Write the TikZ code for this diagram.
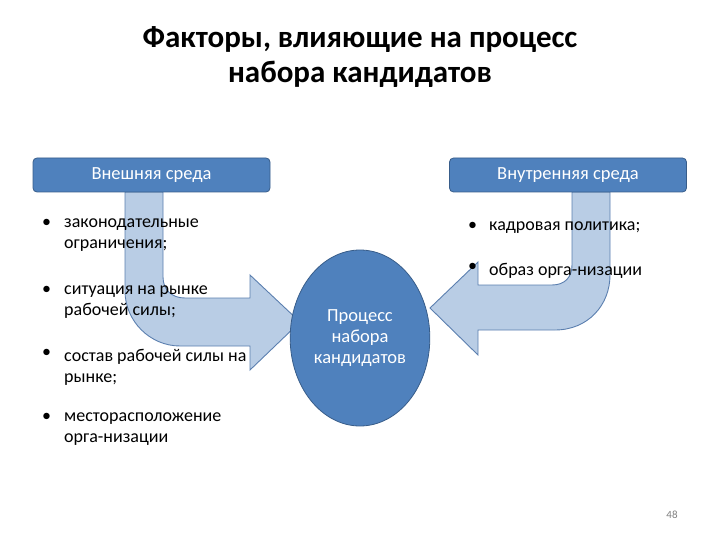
\documentclass[tikz,border=0pt]{standalone}
\usepackage{fontspec}
\setmainfont{Carlito}
\usetikzlibrary{shapes.geometric}
\definecolor{boxblue}{HTML}{4F81BD}
\definecolor{boxedge}{HTML}{385D8A}
\definecolor{arrfill}{HTML}{B9CDE5}
\definecolor{arredge}{HTML}{5B7FAF}
\tikzset{
  hdr/.style={draw=boxedge, fill=boxblue, rounded corners=4pt, minimum width=237pt, minimum height=34pt, text=white, font=\fontsize{18.5}{20}\selectfont, line width=0.8pt},
  body/.style={anchor=north west, align=left, font=\fontsize{18}{21}\selectfont, inner sep=0pt},
  bul/.style={anchor=north west, font=\fontsize{18}{21}\selectfont, inner sep=0pt},
  arr/.style={fill=arrfill, draw=arredge, line width=0.9pt}
}
\begin{document}
\begin{tikzpicture}[x=1pt,y=-1pt]
\useasboundingbox (0,0) rectangle (720,540);
\node[font=\bfseries\fontsize{31}{35}\selectfont, align=center] (title) at (360,57) {Факторы, влияющие на процесс\\набора кандидатов};
% arrows
\draw[arr] (125,192)--(125,291) .. controls (125,321) and (150,346) .. (180,346) -- (250,346) -- (250,370) -- (300,322) -- (250,275) -- (250,298) -- (185,298) .. controls (172,298) and (163,290) .. (163,277) -- (163,192) -- cycle;
\draw[arr] (610,192)--(610,275) .. controls (610,305) and (588,330) .. (555,330) -- (478,330) -- (478,355) -- (430,308) -- (478,262) -- (478,285) -- (552,285) .. controls (565,285) and (572,277) .. (572,265) -- (572,192) -- cycle;
\node[ellipse, draw=boxedge, fill=boxblue, minimum width=124pt, minimum height=176pt, line width=0.8pt, text=white, align=center, font=\fontsize{18.5}{21}\selectfont] (proc) at (360,338) {Процесс\\набора\\кандидатов};
\node[hdr] (ext) at (151.5,175) {Внешняя среда};
\node[hdr] (int) at (568,175) {Внутренняя среда};
% left bullets
\node[bul] (b1) at (42,219) {•}; \node[body] (t1) at (64,219) {законодательные\\ограничения;};
\node[bul] (b2) at (42,286) {•}; \node[body] (t2) at (64,286) {ситуация на рынке\\рабочей силы;};
\node[bul] (b3) at (42,349) {•}; \node[body] (t3) at (64,349) {состав рабочей силы на\\рынке;};
\node[bul] (b4) at (42,413) {•}; \node[body] (t4) at (64,413) {месторасположение\\орга-низации};
% right bullets
\node[bul] (b5) at (468,222) {•}; \node[body] (t5) at (489,222) {кадровая политика;};
\node[bul] (b6) at (468,263) {•}; \node[body] (t6) at (489,263) {образ орга-низации};
\node[text=gray, font=\fontsize{11}{13}\selectfont] (pg) at (672,515) {48};
\end{tikzpicture}
\end{document}
